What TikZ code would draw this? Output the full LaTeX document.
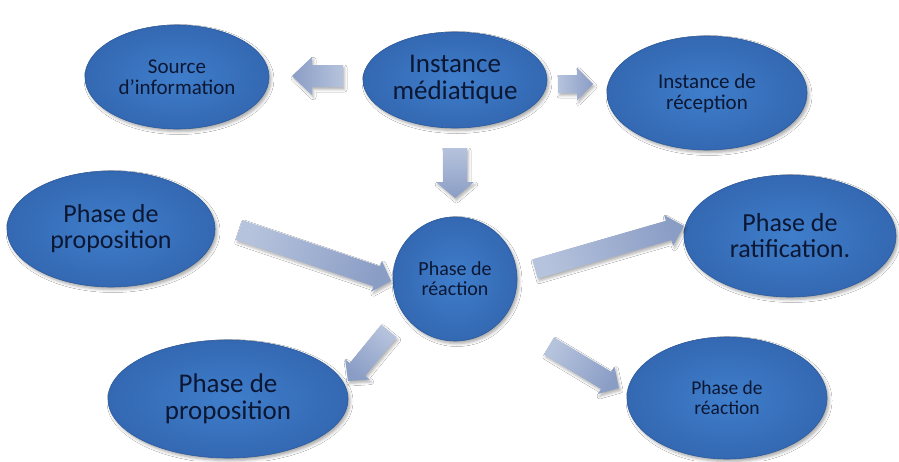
\documentclass[tikz,border=0pt]{standalone}
\usepackage{fontspec}
\setmainfont{Carlito}
\usetikzlibrary{shapes.geometric,calc,shadows.blur}

\definecolor{ellin}{HTML}{3F7ECB}
\definecolor{ellout}{HTML}{3468B2}
\definecolor{ellborder}{HTML}{2D5C9C}
\definecolor{txtnavy}{HTML}{0B1733}
\definecolor{arrlight}{HTML}{B6C3DD}
\definecolor{arrdark}{HTML}{8A9DC5}

\tikzset{
  bubble/.style={ellipse, draw=ellborder, line width=0.6pt,
    inner color=ellin, outer color=ellout, text=txtnavy,
    align=center, inner sep=0pt,
    blur shadow={shadow xshift=2pt, shadow yshift=-2.5pt,
      shadow blur radius=3pt, shadow opacity=35}},
  arrowbody/.style={left color=arrlight, right color=arrdark,
    blur shadow={shadow xshift=1.5pt, shadow yshift=-2.5pt,
      shadow blur radius=2.5pt, shadow opacity=30}},
  fs/.style={font=\fontsize{#1}{#1}\selectfont}
}

% block arrow: #1 tail, #2 tip, #3 half shaft width, #4 half head width,
% #5 head length, #6 shading angle
\newcommand\blockarrow[6]{%
  \coordinate (#1-#2-h) at ($(#2)!#5!(#1)$);
  \path[arrowbody, shading angle=#6]
    ($(#1)!#3!90:(#2)$) -- ($(#1-#2-h)!#3!90:(#2)$)
    -- ($(#1-#2-h)!#4!90:(#2)$) -- (#2)
    -- ($(#1-#2-h)!#4!-90:(#2)$) -- ($(#1-#2-h)!#3!-90:(#2)$)
    -- ($(#1)!#3!-90:(#2)$) -- cycle;
}

\begin{document}
\begin{tikzpicture}[x=1pt, y=-1pt]
  \useasboundingbox[fill=white] (0,0) rectangle (899,461);

  % bubbles
  \node[bubble, minimum width=184pt, minimum height=104pt, fs=21]
    (src) at (177,77) {Source\\d'information};
  \node[bubble, minimum width=184pt, minimum height=96pt, fs=27]
    (inst) at (455,80) {Instance\\médiatique};
  \node[bubble, minimum width=200pt, minimum height=114pt, fs=21]
    (rec) at (707,93) {Instance de\\réception};
  \node[bubble, minimum width=124pt, minimum height=124pt, fs=20]
    (react) at (455,279) {Phase de\\réaction};
  \node[bubble, minimum width=212pt, minimum height=122pt, fs=26]
    (ratif) at (790,236) {Phase de\\ratification.};
  \node[bubble, minimum width=208pt, minimum height=116pt, fs=26]
    (prop) at (111,229) {Phase de\\proposition};
  \node[bubble, minimum width=240pt, minimum height=118pt, fs=27]
    (propb) at (228,399) {Phase de\\proposition};
  \node[bubble, minimum width=200pt, minimum height=122pt, fs=19.5]
    (reactb) at (727,398) {Phase de\\réaction};

  % arrow end points
  \coordinate (a1t) at (343,76);  \coordinate (a1h) at (292,76);
  \coordinate (a2t) at (558,84);  \coordinate (a2h) at (593,84);
  \coordinate (a3t) at (455,148); \coordinate (a3h) at (455,198);
  \coordinate (a4t) at (239,230); \coordinate (a4h) at (391,281);
  \coordinate (a5t) at (535,269); \coordinate (a5h) at (684,226);
  \coordinate (a6t) at (389,331); \coordinate (a6h) at (348,381);
  \coordinate (a7t) at (549,346); \coordinate (a7h) at (619,388);

  % block arrows
  \blockarrow{a1t}{a1h}{11pt}{19pt}{20pt}{270}
  \blockarrow{a2t}{a2h}{9pt}{16.5pt}{16pt}{90}
  \blockarrow{a3t}{a3h}{12pt}{19pt}{16pt}{0}
  \blockarrow{a4t}{a4h}{10.5pt}{16pt}{15pt}{71.5}
  \blockarrow{a5t}{a5h}{10pt}{16pt}{16pt}{106.1}
  \blockarrow{a6t}{a6h}{10pt}{16pt}{15pt}{-39.4}
  \blockarrow{a7t}{a7h}{10pt}{16pt}{15pt}{58.9}
\end{tikzpicture}
\end{document}
